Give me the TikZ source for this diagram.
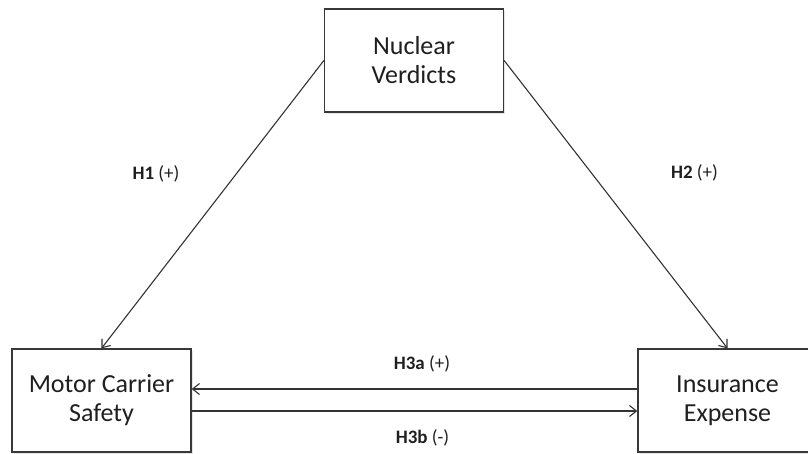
\documentclass[tikz,border=0pt]{standalone}
\usepackage{fontspec}
\setmainfont{Carlito}
\usetikzlibrary{arrows.meta,shadows}

\begin{document}
\begin{tikzpicture}[x=1pt,y=-1pt,>={Straight Barb[length=7pt,width=11pt]}]
\tikzset{
  box/.style={draw=black!78, line width=1.3pt, fill=white, minimum width=179pt, minimum height=103pt,
    align=center, font=\fontsize{26}{29}\selectfont, text=black!88,
    drop shadow={opacity=0.2, shadow xshift=1.5pt, shadow yshift=-1.5pt}},
  link/.style={->, draw=black!80, line width=1.1pt},
  hyp/.style={font=\fontsize{19}{22}\selectfont, text=black!88}
}
\useasboundingbox (0,0) rectangle (808,453);
\clip (0,0) rectangle (808,453);
% the three constructs
\node[box] (nv) at (414,60.5) {Nuclear\\Verdicts};
\node[box] (mcs) at (101.5,400.5) {Motor Carrier\\Safety};
\node[box] (ie) at (727.5,400.5) {Insurance\\Expense};
% hypotheses
\draw[link] (nv.west) -- (mcs.north);
\draw[link] (nv.east) -- (ie.north);
\draw[link] ([yshift=11.5pt]ie.west) -- ([yshift=11.5pt]mcs.east);
\draw[link] ([yshift=-10.5pt]mcs.east) -- ([yshift=-10.5pt]ie.west);
\node[hyp] (h1) at (156,173.5) {\textbf{H1} (+)};
\node[hyp] (h2) at (694.5,173) {\textbf{H2} (+)};
\node[hyp] (h3a) at (422,363.5) {\textbf{H3a} (+)};
\node[hyp] (h3b) at (422.5,437.5) {\textbf{H3b} (-)};
\end{tikzpicture}
\end{document}
